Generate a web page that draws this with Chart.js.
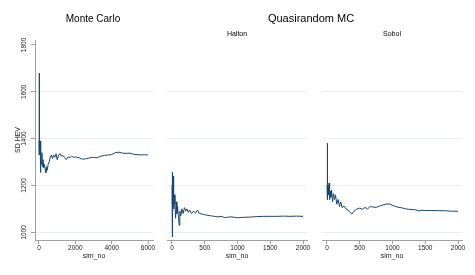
<!DOCTYPE html>
<html>
<head>
<meta charset="utf-8">
<script src="https://cdn.jsdelivr.net/npm/chart.js@4"></script>
<style>
body { margin: 0; background: #fff; font-family: "Liberation Sans", Arial, sans-serif; }
#wrap { position: relative; width: 475px; height: 275px; overflow: hidden; }
canvas { position: absolute; top: 0; }
.t { position: absolute; white-space: nowrap; transform: translate(-50%, -50%); color: #000; }
</style>
</head>
<body>
<div id="wrap">
  <canvas id="c_mc" width="160" height="275" style="left:0px"></canvas>
  <canvas id="c_halton" width="155" height="275" style="left:160px"></canvas>
  <canvas id="c_sobol" width="160" height="275" style="left:315px"></canvas>
  <div class="t" style="left:93px;top:18px;font-size:10px">Monte Carlo</div>
  <div class="t" style="left:311px;top:18px;font-size:11px">Quasirandom MC</div>
  <div class="t" style="left:237px;top:33px;font-size:7px">Halton</div>
  <div class="t" style="left:392px;top:33px;font-size:7px">Sobol</div>
</div>
<script>
// values
var y_ticks = [1000, 1200, 1400, 1600, 1800];
var mc_ticks = [0, 2000, 4000, 6000];
var qmc_ticks = [0, 500, 1000, 1500, 2000];

var mc_x = [1, 3, 6, 10, 15, 20, 30, 45, 60, 75, 90, 110, 130, 160, 190, 220, 260, 300, 340, 380,
  420, 460, 500, 560, 620, 680, 740, 800, 870, 940, 1000, 1080, 1160, 1240, 1320, 1400, 1500, 1600,
  1700, 1800, 1900, 2000, 2200, 2400, 2600, 2800, 3000, 3200, 3400, 3600, 3800, 4000, 4200, 4400,
  4600, 4800, 5000, 5200, 5400, 5600, 5800, 6000];
var mc_y = [1390, 1680, 1470, 1560, 1400, 1450, 1380, 1330, 1390, 1300, 1255, 1330, 1290, 1340, 1280,
  1310, 1275, 1290, 1270, 1255, 1280, 1265, 1290, 1300, 1320, 1330, 1315, 1330, 1320, 1335, 1310,
  1330, 1335, 1325, 1328, 1320, 1310, 1322, 1318, 1325, 1320, 1322, 1318, 1312, 1314, 1318, 1320,
  1318, 1325, 1328, 1330, 1332, 1340, 1342, 1338, 1337, 1338, 1333, 1332, 1330, 1331, 1330];

var halton_x = [1, 3, 5, 8, 12, 16, 20, 25, 30, 38, 45, 55, 65, 75, 85, 100, 110, 120, 135, 150, 170,
  190, 210, 230, 250, 270, 300, 330, 360, 390, 420, 460, 500, 550, 600, 650, 700, 750, 800, 850, 900,
  950, 1000, 1100, 1200, 1300, 1400, 1500, 1600, 1700, 1800, 1900, 2000];
var halton_y = [1200, 980, 1180, 1257, 1120, 1240, 1150, 1190, 1100, 1160, 1120, 1060, 1130, 1080,
  1110, 1060, 1030, 1090, 1070, 1100, 1080, 1105, 1090, 1100, 1085, 1095, 1080, 1090, 1082, 1095,
  1080, 1078, 1075, 1072, 1070, 1068, 1066, 1068, 1063, 1064, 1066, 1064, 1062, 1064, 1065, 1067,
  1068, 1068, 1068, 1069, 1068, 1069, 1068];

var sobol_x = [1, 3, 5, 8, 12, 18, 25, 32, 40, 50, 60, 70, 85, 100, 115, 130, 150, 170, 190, 210, 230,
  260, 290, 320, 350, 380, 410, 450, 500, 540, 580, 620, 660, 700, 750, 800, 850, 900, 950, 1000,
  1050, 1100, 1150, 1200, 1250, 1300, 1350, 1400, 1450, 1500, 1600, 1700, 1800, 1900, 2000];
var sobol_y = [1200, 1380, 1150, 1230, 1140, 1200, 1160, 1210, 1140, 1175, 1150, 1180, 1130, 1165,
  1140, 1160, 1120, 1140, 1110, 1130, 1105, 1112, 1100, 1095, 1085, 1078, 1090, 1098, 1103, 1098,
  1106, 1100, 1110, 1108, 1106, 1112, 1116, 1120, 1121, 1115, 1110, 1106, 1104, 1100, 1098, 1097,
  1096, 1091, 1094, 1093, 1093, 1092, 1092, 1090, 1090];

var FONT = "'Liberation Sans', Arial, sans-serif";
var LINE = "#1a476f";
var GRID = "#e8eff2";
var AXIS = "#a0a0a0";

function plain(v) { return String(v); }

function makePanel(id, xs, ys, xTicks, xMin, xMax, showY, pad) {
  var pts = xs.map(function (x, i) { return { x: x, y: ys[i] }; });
  var ctx = document.getElementById(id);
  return new Chart(ctx, {
    type: 'line',
    data: { datasets: [{ data: pts, borderColor: LINE, borderWidth: 1, pointRadius: 0, tension: 0, fill: false }] },
    options: {
      responsive: false,
      animation: false,
      layout: { padding: pad },
      plugins: { legend: { display: false }, tooltip: { enabled: false } },
      scales: {
        x: {
          type: 'linear', min: xMin, max: xMax,
          afterBuildTicks: function (s) { s.ticks = xTicks.map(function (v) { return { value: v }; }); },
          afterFit: function (s) { s.height = 35; },
          grid: { drawOnChartArea: false, drawTicks: true, tickLength: 4, tickColor: AXIS },
          border: { display: true, color: AXIS },
          ticks: { padding: 0, maxRotation: 0, callback: plain, color: '#222', font: { family: FONT, size: 6.5 } },
          title: { display: true, text: 'sim_no', color: '#222', padding: { top: 0, bottom: 15 }, font: { family: FONT, size: 7 } }
        },
        y: {
          type: 'linear', min: 967, max: 1821,
          afterBuildTicks: function (s) { s.ticks = y_ticks.map(function (v) { return { value: v }; }); },
          afterFit: function (s) { s.width = showY ? 35 : 0; },
          grid: {
            color: function (c) { return c.tick && c.tick.value === 1800 ? 'rgba(0,0,0,0)' : GRID; },
            drawTicks: showY, tickLength: 4, tickColor: AXIS
          },
          border: { display: showY, color: AXIS },
          ticks: {
            display: showY, padding: 0, minRotation: 90, maxRotation: 90, crossAlign: 'center',
            callback: plain, color: '#222', font: { family: FONT, size: 6.5 }
          },
          title: { display: showY, text: 'SD HEV', color: '#222', padding: { top: 14, bottom: 0 }, font: { family: FONT, size: 7 } }
        }
      }
    }
  });
}

makePanel('c_mc', mc_x, mc_y, mc_ticks, -220, 6275, true, { left: 0, right: 7, top: 40, bottom: 0 });
makePanel('c_halton', halton_x, halton_y, qmc_ticks, -76, 2061, false, { left: 7, right: 8, top: 40, bottom: 0 });
makePanel('c_sobol', sobol_x, sobol_y, qmc_ticks, -76, 2061, false, { left: 7, right: 13, top: 40, bottom: 0 });
</script>
</body>
</html>
